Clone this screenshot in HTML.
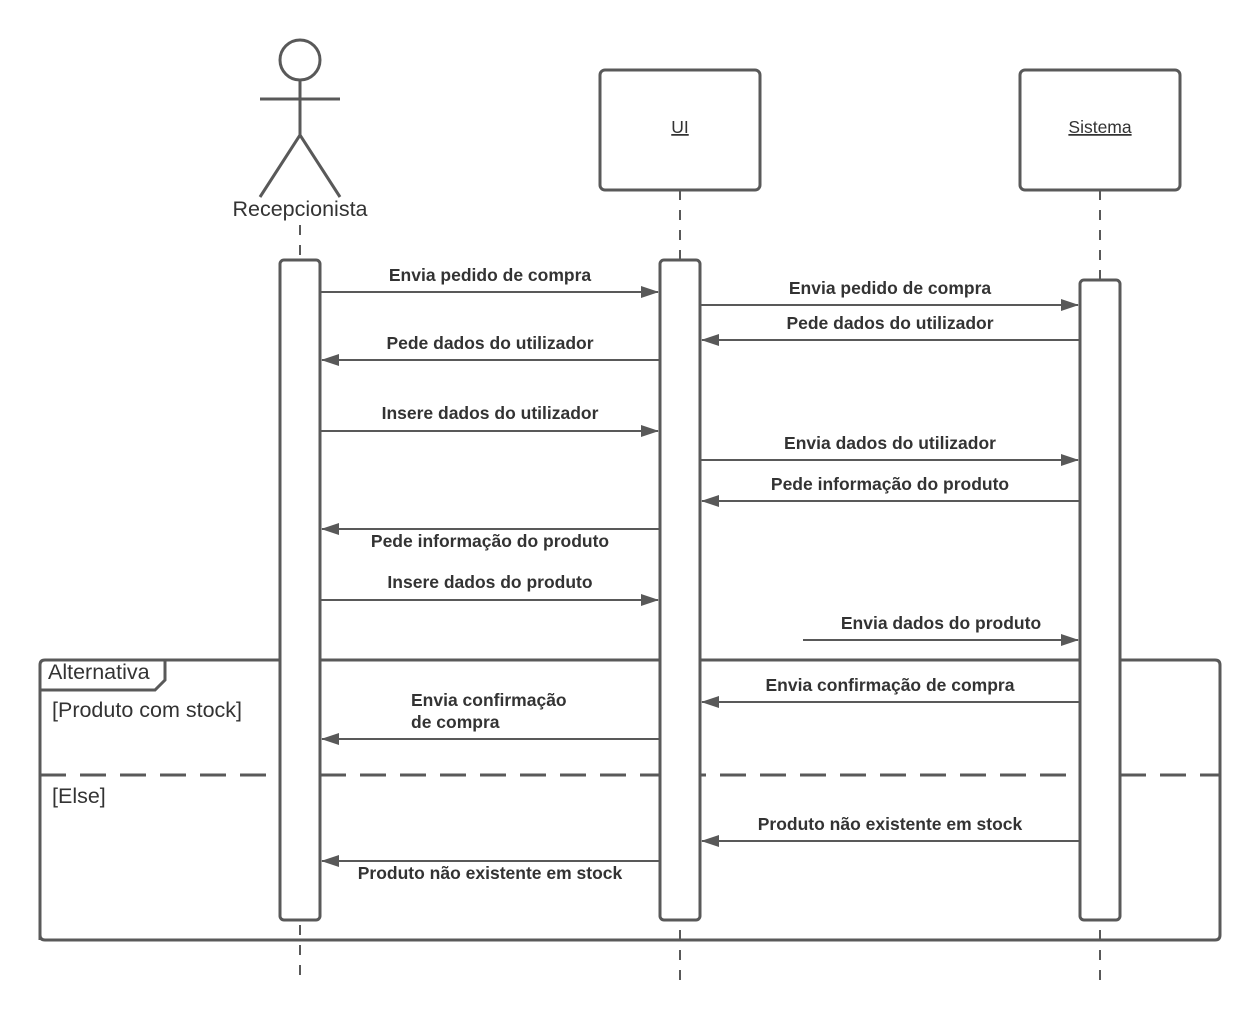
<!DOCTYPE html>
<html><head><meta charset="utf-8"><style>body{margin:0;background:#fff}</style></head><body>
<svg width="1260" height="1020" xmlns="http://www.w3.org/2000/svg" font-family="Liberation Sans, sans-serif">
<defs><marker id="a" markerWidth="18" markerHeight="12" refX="17" refY="6" orient="auto" markerUnits="userSpaceOnUse"><path d="M0,0 L18,6 L0,12 Z" fill="#595959"/></marker></defs>
<g stroke="#595959" stroke-width="2" stroke-dasharray="10,10" fill="none">
<line x1="300" y1="225" x2="300" y2="980"/><line x1="680" y1="190" x2="680" y2="980"/><line x1="1100" y1="190" x2="1100" y2="980"/>
</g>
<g stroke="#595959" stroke-width="3" fill="#fff">
<circle cx="300" cy="60" r="20"/>
<line x1="300" y1="80" x2="300" y2="135"/><line x1="260" y1="99" x2="340" y2="99"/>
<polyline points="260,197 300,135 340,197" fill="none"/>
<rect x="600" y="70" width="160" height="120" rx="5"/>
<rect x="1020" y="70" width="160" height="120" rx="5"/>
<path d="M40,940 V665 Q40,660 45,660 H1215 Q1220,660 1220,665 V935 Q1220,940 1215,940 H45 Q40,940 40,935" fill="none"/>
<polyline points="40,690 155,690 165,680 165,660" fill="none"/>
<line x1="40" y1="775" x2="1220" y2="775" stroke-dasharray="26,14" />
<rect x="280" y="260" width="40" height="660" rx="4"/>
<rect x="660" y="260" width="40" height="660" rx="4"/>
<rect x="1080" y="280" width="40" height="640" rx="4"/>
</g>
<g fill="#333">
<text x="300" y="216" font-size="21.5" text-anchor="middle">Recepcionista</text>
<text x="680" y="133" font-size="17.5" text-anchor="middle" text-decoration="underline">UI</text>
<text x="1100" y="133" font-size="17.5" text-anchor="middle" text-decoration="underline">Sistema</text>
<text x="48" y="679" font-size="21.5">Alternativa</text>
<text x="52" y="717" font-size="21.5">[Produto com stock]</text>
<text x="52" y="803" font-size="21.5">[Else]</text>
</g>
<g stroke="#595959" stroke-width="2" marker-end="url(#a)">
<line x1="320" y1="292" x2="658" y2="292"/>
<line x1="700" y1="305" x2="1078" y2="305"/>
<line x1="1080" y1="340" x2="702" y2="340"/>
<line x1="660" y1="360" x2="322" y2="360"/>
<line x1="320" y1="431" x2="658" y2="431"/>
<line x1="700" y1="460" x2="1078" y2="460"/>
<line x1="1080" y1="501" x2="702" y2="501"/>
<line x1="660" y1="529" x2="322" y2="529"/>
<line x1="320" y1="600" x2="658" y2="600"/>
<line x1="803" y1="640" x2="1078" y2="640"/>
<line x1="1080" y1="702" x2="702" y2="702"/>
<line x1="660" y1="739" x2="322" y2="739"/>
<line x1="1080" y1="841" x2="702" y2="841"/>
<line x1="660" y1="861" x2="322" y2="861"/>
</g>
<g fill="#333" font-size="17.5" font-weight="bold" text-anchor="middle">
<text x="490" y="281">Envia pedido de compra</text>
<text x="890" y="294">Envia pedido de compra</text>
<text x="890" y="329">Pede dados do utilizador</text>
<text x="490" y="349">Pede dados do utilizador</text>
<text x="490" y="419">Insere dados do utilizador</text>
<text x="890" y="449">Envia dados do utilizador</text>
<text x="890" y="490">Pede informação do produto</text>
<text x="490" y="547">Pede informação do produto</text>
<text x="490" y="588">Insere dados do produto</text>
<text x="941" y="629">Envia dados do produto</text>
<text x="890" y="691">Envia confirmação de compra</text>
<text x="411" y="706" text-anchor="start">Envia confirmação</text>
<text x="411" y="728" text-anchor="start">de compra</text>
<text x="890" y="830">Produto não existente em stock</text>
<text x="490" y="879">Produto não existente em stock</text>
</g>
</svg>
</body></html>
